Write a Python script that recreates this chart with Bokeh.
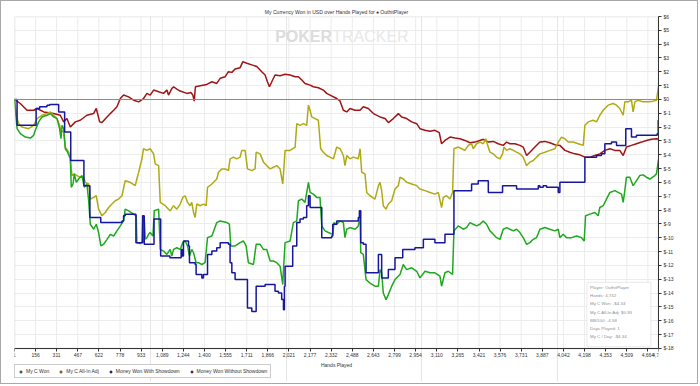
from bokeh.plotting import figure
from bokeh.models import FixedTicker, Label, Legend, LegendItem, Span, Range1d, LinearAxis, BoxAnnotation
from bokeh.embed import file_html
from bokeh.resources import INLINE

# ---------------- data (hands played, USD) ----------------
won_hands = [1,20,44,81,118,142,154,179,203,240,265,289,314,333,343,351,363,375,392,412,419,432,441,456,473,498,515,534,547,559,584,603,620,637,657,682,706,731,755,780,804,816,841,878,897,902,927,939,946,956,964,976,988,1000,1020,1030,1062,1074,1098,1123,
             1147,1159,1172,1196,1221,1240,1257,1275,1289,1306,1319,1338,1355,1380,1404,1422,1454,1490,1515,1564,1583,1593,1625,1662,1686,1706,1723,1760,1780,1809,1834,1858,1883,1907,1932,1956,1976,1981,1993,2030,2054,2079,2091,2116,2140,2165,2177,2201,2226,2250,2263,2287,2312,2344,2353,
             2373,2398,2422,2434,2447,2471,2508,2532,2545,2550,2569,2589,2618,2655,2680,2692,2704,2716,2736,2753,2778,2802,2839,2863,2888,2925,2962,2986,3023,3060,3096,3133,3145,3170,3194,3226,3236,3268,3305,3329,3354,3378,3403,3427,3452,3476,3501,
             3526,3550,3575,3599,3624,3648,3673,3697,3722,3746,3771,3795,3820,3844,3869,3906,3942,3979,4004,4016,4040,4065,4102,4139,4175,4195,4205,4237,4273,4298,4310,4335,4359,4384,4421,4445,4470,4482,4494,4506,4531,4555,4580,4604,4629,4653,4678,4715,4727,4742]
won_usd = [0,-2.11,-2.47,-2.72,-2.79,-2.59,-2.23,-1.62,-1.26,-1.14,-1.02,-1.26,-1.38,-2.11,-2.84,-1.87,-2.11,-3.56,-3.81,-4.29,-6.35,-6.11,-5.38,-5.99,-5.75,-5.50,-6.35,-6.11,-7.32,-9.02,-9.38,-9.02,-9.62,-10.59,-10.47,-10.11,-9.75,-9.87,-9.50,-9.14,-8.78,-7.93,-8.05,-8.29,-8.41,-10.35,-10.42,-10.35,-8.41,-8.65,-10.11,-9.99,-9.75,-9.62,-9.87,-8.05,-7.93,-10.84,-10.96,-11.20,
           -10.84,-11.32,-10.84,-10.72,-10.84,-10.35,-10.23,-10.59,-11.32,-10.84,-11.08,-11.80,-11.80,-11.93,-11.80,-9.99,-9.87,-8.90,-8.78,-8.90,-9.02,-10.59,-10.59,-10.35,-10.23,-10.59,-11.80,-11.93,-10.47,-10.47,-10.84,-10.84,-11.68,-11.68,-11.80,-12.05,-13.38,-12.30,-10.35,-10.23,-8.90,-8.78,-7.32,-7.20,-7.44,-5.99,-6.72,-6.84,-7.08,-7.08,-9.14,-9.50,-9.62,-9.75,-8.90,
           -9.02,-8.78,-8.90,-9.99,-9.38,-9.26,-9.38,-9.14,-8.41,-11.08,-11.20,-13.02,-13.27,-13.50,-13.50,-12.30,-12.53,-13.99,-14.47,-14.11,-13.50,-13.02,-12.65,-11.93,-12.30,-12.17,-12.42,-12.90,-12.42,-12.53,-12.53,-12.77,-13.50,-12.53,-12.42,-12.65,-9.50,-9.14,-9.38,-9.26,-8.90,-9.02,-9.14,-9.02,-8.78,-9.02,-9.50,
           -9.75,-9.99,-10.11,-9.38,-9.26,-9.38,-9.50,-9.38,-9.62,-9.99,-10.47,-10.35,-10.11,-9.99,-9.38,-9.26,-9.38,-9.50,-9.38,-9.99,-9.75,-9.99,-9.99,-9.87,-9.99,-10.23,-8.41,-8.29,-8.17,-8.41,-7.81,-7.68,-7.20,-6.72,-6.59,-6.72,-6.84,-7.44,-6.59,-5.62,-5.62,-6.23,-5.87,-5.50,-5.45,-5.62,-5.75,-5.50,-5.38,-4.34]

adj_hands = [1,20,32,56,105,142,167,203,240,265,289,314,333,343,363,375,400,412,424,441,461,485,510,522,547,559,584,603,620,645,669,694,718,743,767,792,816,853,890,902,915,939,951,976,1000,1025,1037,1062,1074,1111,1135,
             1147,1172,1196,1221,1240,1257,1275,1294,1306,1319,1331,1343,1368,1392,1412,1422,1454,1490,1503,1527,1552,1576,1588,1613,1637,1662,1674,1699,1716,1748,1772,1780,1809,1834,1858,1883,1907,1932,1956,1976,1993,2030,2067,2079,2103,2128,2152,2165,2177,2189,2214,2238,2255,2275,2299,2324,
             2349,2373,2398,2422,2434,2447,2471,2496,2532,2545,2557,2581,2594,2618,2655,2680,2692,2704,2716,2736,2753,2778,2802,2827,2839,2863,2888,2925,2962,2986,3023,3060,3096,3121,3145,3158,3182,3207,3226,3236,3268,3293,3317,3342,3366,3378,3403,3427,3452,3472,3481,3501,
             3526,3550,3575,3594,3604,3624,3648,3673,3697,3722,3746,3771,3795,3820,3844,3869,3906,3942,3979,4004,4028,4053,4077,4114,4151,4188,4200,4224,4261,4286,4310,4335,4371,4408,4433,4457,4482,4494,4518,4543,4555,4568,4592,4629,4666,4703,4727,4742]
adj_usd = [0,-1.38,-1.75,-1.99,-2.11,-1.87,-1.38,-1.14,-1.02,-0.90,-1.14,-1.38,-1.87,-2.23,-2.35,-3.44,-3.81,-4.29,-5.50,-5.38,-5.50,-5.62,-5.62,-5.99,-6.11,-7.20,-7.08,-6.96,-7.93,-8.41,-8.17,-7.81,-7.56,-7.32,-7.20,-6.96,-5.87,-5.99,-6.23,-5.75,-5.26,-4.29,-3.56,-3.68,-3.56,-3.93,-4.65,-4.78,-7.44,-7.68,-7.93,
           -8.05,-7.68,-7.93,-7.56,-7.08,-6.96,-7.44,-7.68,-7.44,-8.17,-8.53,-7.56,-7.68,-7.56,-7.68,-6.35,-6.11,-5.75,-5.26,-5.02,-5.02,-5.14,-4.29,-4.17,-4.29,-4.17,-3.68,-3.68,-5.02,-5.14,-5.02,-3.81,-3.93,-4.53,-4.78,-5.02,-4.90,-4.78,-5.02,-6.11,-3.68,-3.68,-3.44,-1.75,-1.87,-1.75,-1.87,-0.41,-0.78,-1.26,-1.38,-1.50,-3.56,-3.81,-4.05,-4.17,
           -4.29,-3.44,-3.56,-4.05,-4.78,-4.05,-4.29,-4.17,-4.29,-3.56,-5.26,-5.38,-6.72,-6.96,-7.20,-6.23,-5.99,-6.59,-7.68,-7.93,-7.56,-7.32,-6.47,-6.23,-5.62,-5.75,-5.99,-6.11,-6.23,-6.47,-6.59,-6.72,-6.84,-6.72,-7.81,-7.08,-6.96,-7.20,-6.72,-3.56,-3.44,-3.56,-3.68,-3.32,-3.20,-3.56,-3.20,-3.08,-3.20,-2.84,-3.20,-3.81,
           -3.93,-4.17,-4.29,-3.93,-3.44,-3.68,-3.56,-3.68,-3.81,-3.93,-4.17,-4.78,-4.53,-4.41,-4.17,-3.93,-3.81,-3.68,-3.56,-3.08,-2.72,-2.84,-3.08,-3.08,-3.20,-3.32,-1.87,-1.62,-1.50,-1.62,-1.14,-0.78,-0.41,-0.29,-0.41,-0.65,-1.14,-0.17,-0.17,-0.05,-0.90,-0.17,-0.05,-0.17,-0.17,-0.12,-0.05,0.93]

sd_hands = [1,20,160,186,240,260,326,370,415,512,556,636,792,804,816,895,944,956,1028,1077,1145,1228,1235,1245,1282,1289,1331,1338,1380,1392,1422,1454,1490,1515,1576,1588,1601,1625,1716,1748,1780,1846,1919,1944,1968,1981,1988,1993,2049,2079,2103,2128,2152,2165,2177,2263,2336,2344,2373,2532,2540,2550,2569,2589,2680,2704,2753,2802,2859,2949,3011,3096,3170,3236,3366,3415,3489,3594,3697,3857,3869,3893,3918,4004,4016,4200,4286,4322,4347,4396,4433,4501,4543,4580,4732,4740,4742]
sd_usd = [0,-1.87,-0.65,-0.53,-0.41,-0.36,-0.90,-2.35,-4.41,-6.23,-8.53,-8.90,-8.78,-8.41,-8.29,-10.35,-8.41,-10.47,-8.65,-11.32,-11.45,-10.84,-11.32,-10.23,-10.59,-11.80,-11.93,-12.65,-12.90,-12.65,-11.20,-10.96,-10.72,-10.35,-10.47,-11.80,-12.53,-13.02,-15.08,-15.32,-13.50,-13.38,-13.87,-13.99,-14.47,-15.20,-13.50,-12.05,-10.59,-8.90,-8.65,-8.53,-7.68,-6.96,-7.81,-9.99,-9.87,-9.02,-8.78,-8.53,-8.05,-10.35,-10.47,-12.53,-11.20,-12.90,-12.30,-11.44,-10.84,-10.72,-10.11,-10.35,-9.75,-6.59,-6.11,-5.87,-6.72,-6.23,-6.47,-6.23,-6.35,-6.23,-6.35,-6.72,-5.99,-4.17,-4.05,-3.93,-3.20,-3.08,-3.32,-2.11,-2.72,-2.59,-2.47,-1.50,-1.50]

nsd_hands = [1,44,93,142,167,216,289,338,363,387,412,449,485,534,583,603,628,645,682,706,731,755,780,804,841,878,915,951,976,1000,1025,1062,1098,1123,1135,1160,
             1172,1196,1221,1270,1299,1314,1324,1333,1368,1417,1454,1490,1515,1552,1576,1601,1625,1662,1682,1711,1748,1785,1821,1846,1863,1878,1895,1919,1956,1993,2030,2067,2091,2116,2140,2177,2201,2238,2275,2299,2324,
             2373,2398,2422,2447,2471,2508,2545,2569,2606,2643,2692,2729,2753,2790,2827,2851,2888,2925,2962,2986,3023,3060,3096,3128,3145,3170,3207,3243,3280,3317,3354,3391,3427,3452,3489,
             3526,3562,3599,3624,3648,3685,3722,3746,3771,3795,3832,3869,3906,3942,3979,4016,4053,4089,4126,4163,4200,4237,4273,4310,4347,4384,4421,4457,4482,4506,4543,4580,4617,4653,4690,4727,4742]
nsd_usd = [0,-0.29,-0.78,-0.78,-0.65,-0.90,-1.02,-1.14,-1.62,-1.38,-1.99,-1.62,-1.50,-1.14,-1.02,-0.65,-1.62,-1.67,-1.26,-1.02,-0.78,-0.53,0.07,0.32,0.19,-0.05,-0.17,0.07,0.44,0.32,0.68,0.56,0.44,0.68,0.32,0.80,
           0.92,0.75,0.61,0.44,0.51,0.32,-0.12,0.92,0.99,1.09,1.28,1.16,1.53,1.65,2.01,1.96,2.21,2.30,2.74,2.62,2.50,2.38,2.01,1.77,1.28,0.92,1.28,1.77,1.72,1.82,1.77,1.65,1.65,1.41,1.16,1.04,0.92,0.85,0.68,0.44,0.32,
           0.07,-0.12,-0.78,-0.90,-0.65,-0.78,-0.78,-0.53,-0.65,-1.02,-1.26,-1.38,-1.67,-1.38,-1.02,-1.26,-1.38,-1.62,-1.75,-2.11,-2.23,-2.30,-2.23,-2.40,-3.20,-2.96,-2.72,-2.79,-2.84,-2.96,-3.13,-3.08,-2.96,-2.88,-3.08,
           -3.03,-3.20,-3.32,-3.08,-3.20,-3.20,-3.32,-3.44,-4.05,-3.81,-3.44,-3.08,-3.03,-3.13,-3.27,-3.32,-3.68,-3.81,-3.93,-4.00,-4.17,-4.17,-4.05,-3.93,-3.68,-3.56,-3.68,-3.68,-4.05,-3.44,-3.32,-3.20,-3.08,-2.96,-2.88,-2.84,-2.88]

x_ticks = [1,156,311,467,622,778,933,1089,1244,1400,1555,1711,1866,2021,2177,2332,2488,2643,2799,2954,3110,3265,3421,3576,3731,3887,4042,4198,4353,4509,4664,4742]
y_ticks = list(range(-18, 7))
y_lo, y_hi = -18, 6

series_names = ["My C Won", "My C All-In Adj", "Money Won With Showdown", "Money Won Without Showdown"]
series_colors = ["#1ea81e", "#b0aa12", "#16169e", "#a01414"]

title_text = "My Currency Won in USD over Hands Played for \u2660 OuthitPlayer"
stats_lines = ["Player: OuthitPlayer", "Hands: 4,742", "My C Won: -$4.34", "My C All-In Adj: $0.93",
               "BB/100: -4.58", "Days Played: 1", "My C / Day: -$4.34"]

FONT = "Liberation Sans"

# frame: 332 px for the $-18..$6 band, plus a strip below for axis labels and legend
p = figure(frame_width=644, frame_height=365, output_backend="svg", toolbar_location=None,
           x_range=Range1d(1, 4742), y_range=Range1d(-20.39, y_hi),
           x_axis_location=None, y_axis_location="right",
           min_border_left=13, min_border_right=39, min_border_top=15, min_border_bottom=2)
p.styles = {"border": "1px solid #a8a8a8"}
p.outline_line_color = None

# title
p.title.text = title_text
p.title.align = "center"
p.title.offset = 26
p.title.text_font = FONT
p.title.text_font_size = "5.1px"
p.title.text_font_style = "normal"
p.title.text_color = "#333333"
p.title.standoff = 3

# horizontal grid
p.ygrid.ticker = FixedTicker(ticks=y_ticks)
p.ygrid.grid_line_color = "#ececec"
p.ygrid.bounds = (y_lo, y_hi)
# vertical grid lines at the x ticks, limited to the chart band
p.segment(x0=x_ticks, y0=[y_lo] * len(x_ticks), x1=x_ticks, y1=[y_hi] * len(x_ticks),
          line_color="#ececec", line_width=1)

# chart band outline
p.add_layout(BoxAnnotation(left=1, right=4742, bottom=y_lo, top=y_hi, fill_alpha=0,
                           line_color="#9a9a9a", line_width=1.5, level="underlay"))

# right axis
yax = p.yaxis[0]
yax.ticker = FixedTicker(ticks=y_ticks)
yax.major_label_overrides = {t: f"${t}" for t in y_ticks}
yax.bounds = (y_lo, y_hi)

# bottom axis fixed at $-18
xax = LinearAxis(fixed_location=y_lo, ticker=FixedTicker(ticks=x_ticks),
                 major_label_overrides={t: f"{t:,}" for t in x_ticks},
                 axis_label="Hands Played")
p.add_layout(xax, "below")

for ax in (xax, yax):
    ax.axis_line_color = "#333333"
    ax.axis_line_width = 1
    ax.major_tick_line_color = "#333333"
    ax.major_tick_out = 3
    ax.major_tick_in = 0
    ax.minor_tick_line_color = None
    ax.major_label_text_font = FONT
    ax.major_label_text_font_size = "5px"
    ax.major_label_text_color = "#333333"
    ax.major_label_standoff = 2
xax.axis_label_text_font = FONT
xax.axis_label_text_font_size = "5px"
xax.axis_label_text_font_style = "normal"
xax.axis_label_text_color = "#333333"
xax.axis_label_standoff = 1

# zero line
p.add_layout(Span(location=0, dimension="width", line_color="#8a8a8a", line_width=1))

# series
p.line(nsd_hands, nsd_usd, line_color=series_colors[3], line_width=1.5)
p.line(adj_hands, adj_usd, line_color=series_colors[1], line_width=1.5)
p.line(won_hands, won_usd, line_color=series_colors[0], line_width=1.5)
p.step(sd_hands, sd_usd, mode="after", line_color=series_colors[2], line_width=1.5)

# legend (square swatches; proxy markers sit far outside the visible range)
items = []
for name, col in zip(series_names, series_colors):
    r = p.scatter([x_ticks[0]], [y_lo * 10], marker="square", size=5, fill_color=col,
                  line_color="#333333", line_width=0.6)
    items.append(LegendItem(label=name, renderers=[r]))
legend = Legend(items=items, orientation="horizontal", location=(0, 3),
                label_text_font=FONT, label_text_font_size="5px", label_text_color="#333333",
                glyph_width=5, glyph_height=5, label_standoff=3, spacing=9,
                padding=3, margin=0, border_line_color="#9a9a9a", border_line_width=1,
                background_fill_color="white", background_fill_alpha=1,
                label_height=5)
p.add_layout(legend, "center")

# watermark
p.add_layout(Label(x=1920, y=4.55, text="POKER", text_font=FONT, text_font_style="bold",
                   text_font_size="16px", text_color="#dcdcdc", text_baseline="middle", text_align="left"))
p.add_layout(Label(x=2340, y=4.55, text="TRACKER", text_font=FONT,
                   text_font_size="16px", text_color="#e8e8e8", text_baseline="middle", text_align="left"))

# stats box
p.add_layout(BoxAnnotation(left=4215, right=4686, top=-13.23, bottom=-17.86,
                           fill_color="white", fill_alpha=1, line_color="#c4c4c4", line_width=1.2))
for i, line in enumerate(stats_lines):
    p.add_layout(Label(x=4238, y=-13.59 - 0.593 * i, text=line, text_font=FONT,
                       text_font_size="4.4px", text_color="#909090",
                       text_baseline="middle", text_align="left"))

open("out.html", "w").write(file_html(p, INLINE))
